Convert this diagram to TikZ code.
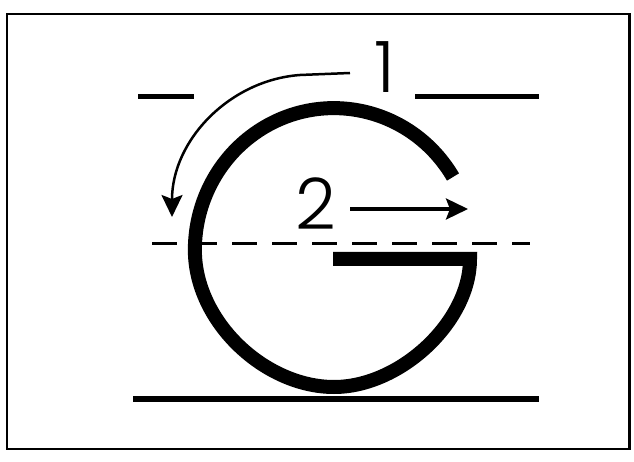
\documentclass[tikz,border=0pt]{standalone}
\usepackage{fontspec}
\newfontfamily\numfont{Poppins Light}
\usetikzlibrary{arrows.meta}

\begin{document}
\begin{tikzpicture}[
    % one unit is one pixel of the sheet, y runs downwards
    x=1pt, y=-1pt,
    % writing lines
    guide/.style={line width=5pt, black},
    groundline/.style={line width=6pt, black},
    midline/.style={line width=3pt, black, dash pattern=on 25pt off 15pt},
    % the letter itself
    letter/.style={line width=14pt, black, line join=miter},
    % stroke order arrows and numbers
    strokearrow/.style={
        -{Stealth[length=22pt, width=21pt, inset=4pt]},
        line width=2.5pt
    },
    stepnum/.style={
        font=\numfont\fontsize{71}{71}\selectfont,
        inner sep=0pt,
        anchor=base
    }
]

\useasboundingbox (0,0) rectangle (634,462);
\draw[line width=2.3pt] (7,14) rectangle (629.5,449);

% ==============================
% Writing lines
% ==============================
\draw[guide] (138,97) -- (194,97);
\draw[guide] (415,97) -- (539,97);
\draw[midline] (152,244) -- (530,244);
\draw[groundline] (133,399) -- (539,399);

% ==============================
% Letter G
% ==============================
\draw[letter] (453,177) arc[start angle=-31, end angle=-180, x radius=139, y radius=142]
    .. controls (195,322) and (265,387) .. (334,387)
    .. controls (400,387) and (470,322) .. (470,259)
    -- (333,259);

% ==============================
% Stroke order
% ==============================
\node[stepnum] (one) at (385,93) {1};
\node[stepnum] (two) at (316,230) {2};

\coordinate (onestart) at (350,73);
\coordinate (onetip) at (172,217);
\coordinate (twostart) at (350,209);
\coordinate (twotip) at (468,209);

\draw[strokearrow] (onestart) -- (300,75) .. controls (230,80) and (172,140) .. (onetip);
\draw[strokearrow, line width=3.5pt] (twostart) -- (twotip);

\end{tikzpicture}
\end{document}
